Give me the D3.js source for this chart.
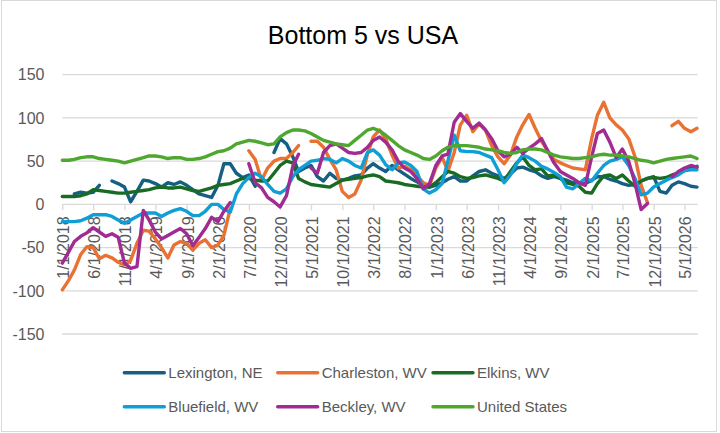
<!DOCTYPE html>
<html>
<head>
<meta charset="utf-8">
<script src="https://cdn.jsdelivr.net/npm/d3@7"></script>
<style>
  body { margin: 0; background: #fff; }
  text { font-family: "Liberation Sans", Arial, sans-serif; fill: #595959; }
</style>
</head>
<body>
<div id="chart"></div>
<script>
const width = 720, height = 433;
const margin = {top: 74.7, right: 23, bottom: 98.7, left: 62.3};

// monthly categories, 1/1/2018 .. 7/1/2026
const months = d3.timeMonth.range(new Date(2018, 0, 1), new Date(2026, 7, 1));
const tickLabels = ["1/1/2018", "6/1/2018", "11/1/2018", "4/1/2019", "9/1/2019", "2/1/2020",
  "7/1/2020", "12/1/2020", "5/1/2021", "10/1/2021", "3/1/2022", "8/1/2022", "1/1/2023",
  "6/1/2023", "11/1/2023", "4/1/2024", "9/1/2024", "2/1/2025", "7/1/2025", "12/1/2025", "5/1/2026"];
const yTicks = [-150, -100, -50, 0, 50, 100, 150];

const lexington = [null, null, 12, 14, 13, 14, 22, null, 27, 24,
  20, 3, 15, 28, 27, 24, 20, 25, 23, 26,
  22, 17, 12, 10, 8, 22, 47, 47, 36, 31,
  34, 21, null, null, 60, 76, 70, 55, 38, 42,
  45, 32, 27, 36, 30, 28, 30, 33, 34, 42,
  47, 42, 38, 45, 40, 35, 30, 26, 22, 20,
  22, 25, 29, 32, 27, 27, 33, 38, 40, 36,
  33, 30, 35, 42, 43, 40, 38, 33, 30, 32,
  30, 28, 25, 24, 24, 28, 32, 32, 29, 27,
  24, 22, 23, 27, 30, 32, 15, 13, 22, 26,
  24, 21, 20];
const charleston = [-99, -88, -76, -58, -49, -50, -63, -59, -62, -67,
  -70, -65, -45, -30, -31, -40, -50, -62, -47, -43,
  -45, -53, -45, -41, -50, -47, -36, -5, null, null,
  62, 52, 28, 42, 50, 53, 53, 60, 68, null,
  73, 73, 66, 52, 40, 15, 8, 12, 28, 58,
  78, 86, 76, 57, 42, 44, 40, 33, 25, 22,
  42, 55, 38, 60, 92, 103, 84, 93, 86, 68,
  55, 47, 57, 78, 92, 104, 88, 73, 62, 52,
  48, 45, 42, 41, 40, 76, 103, 118, 100, 92,
  86, 76, 55, 22, 2, null, null, null, 91, 96,
  88, 84, 88];
const elkins = [9, 9, 9, 10, 12, 17, 16, 15, 14, 13,
  13, 14, 15, 16, 17, 19, 20, 19, 19, 20,
  18, 16, 15, 17, 19, 22, 23, 24, 27, 30,
  30, 28, 27, 27, 36, 45, 50, 48, 30, 26,
  23, 22, 21, 20, 24, 28, 29, 30, 31, 33,
  34, 32, 27, 26, 25, 23, 22, 21, 20, 20,
  25, 32, 38, 36, 32, 30, 31, 33, 34, 32,
  30, 27, 38, 48, 55, 45, 40, 41, 33, 34,
  30, 25, 23, 21, 14, 13, 24, 33, 34, 30,
  34, 27, 21, 27, 30, 31, 30, 31, 34, 36,
  39, 42, 44];
const bluefield = [-20, -20, -20, -19, -16, -12, -12, -12, -14, -18,
  -22, -18, -14, -10, -10, -10, -14, -10, -7, -5,
  -8, -13, -13, -8, 0, 0, -6, -9, 12, 24,
  31, 36, 32, 23, 15, 13, 18, 32, 40, 45,
  50, 51, 53, 52, 48, 53, 50, 45, 42, 60,
  63, 57, 46, 40, 48, 49, 45, 38, 18, 13,
  17, 24, 50, 80, 62, 61, 61, 60, 57, 54,
  40, 25, 34, 47, 57, 54, 50, 44, 41, 37,
  32, 20, 18, 24, 30, 27, 36, 45, 50, 52,
  55, 45, 30, 11, 13, 20, 24, 28, 31, 34,
  39, 40, 40];
const beckley = [-68, -55, -43, -37, -33, -27, -32, -37, -34, -38,
  -68, -74, -72, -7, -18, -32, -40, -36, -32, -28,
  -34, -48, -38, -28, -15, -20, -8, 2, null, null,
  47, 25, 19, 8, 3, -3, 10, 44, 58, null,
  42, 36, 60, 68, 70, 65, 60, 59, 60, 66,
  74, 78, 72, 63, 50, 42, 38, 30, 18, 24,
  45, 56, 58, 95, 105, 96, 88, 94, 86, 76,
  62, 55, 58, 66, 59, 65, 70, 76, 62, 48,
  38, 34, 30, 25, 22, 55, 82, 86, 72, 54,
  64, 50, 24, -6, 1, null, null, null, 32, 38,
  42, 45, 43];
const unitedStates = [51, 51, 52, 54, 55, 55, 53, 52, 51, 50,
  48, 50, 52, 54, 56, 56, 55, 53, 54, 54,
  52, 52, 53, 55, 58, 61, 62, 65, 70, 72,
  74, 73, 71, 69, 70, 78, 83, 86, 86, 85,
  82, 78, 74, 72, 70, 69, 68, 74, 80, 86,
  88, 85, 80, 74, 68, 63, 60, 57, 53, 52,
  56, 62, 66, 68, 68, 68, 67, 66, 64, 63,
  62, 60, 59, 60, 63, 64, 64, 63, 60, 57,
  55, 54, 53, 53, 54, 55, 57, 58, 57, 57,
  56, 55, 53, 51, 50, 48, 50, 52, 53, 54,
  55, 56, 53];

const seriesNames = ["Lexington, NE", "Charleston, WV", "Elkins, WV", "Bluefield, WV", "Beckley, WV", "United States"];
const seriesValues = [lexington, charleston, elkins, bluefield, beckley, unitedStates];
const colors = ["#156082", "#E97132", "#196B24", "#0F9ED5", "#A02B93", "#4EA72E"];

const svg = d3.select("#chart")
    .append("svg")
    .attr("width", width)
    .attr("height", height);

svg.append("rect")
    .attr("x", 1.5).attr("y", 0.5)
    .attr("width", 715).attr("height", 431)
    .attr("fill", "#fff")
    .attr("stroke", "#d9d9d9");

const x = d3.scaleTime()
    .domain([months[0], months[months.length - 1]])
    .range([margin.left, width - margin.right]);
const y = d3.scaleLinear()
    .domain([-150, 150])
    .range([height - margin.bottom - 0.3, margin.top]);

// gridlines
svg.append("g")
    .selectAll("line")
    .data(yTicks)
    .enter()
    .append("line")
    .attr("x1", margin.left)
    .attr("x2", width - margin.right + 0.7)
    .attr("y1", d => y(d))
    .attr("y2", d => y(d))
    .attr("stroke", "#d9d9d9")
    .attr("stroke-width", 1.3);

// y labels
svg.append("g")
    .selectAll("text")
    .data(yTicks)
    .enter()
    .append("text")
    .attr("x", 44.5)
    .attr("y", d => y(d))
    .attr("dy", "0.36em")
    .attr("text-anchor", "end")
    .style("font-size", "16px")
    .text(d => d);

// x axis at zero
const tickDates = tickLabels.map(s => d3.timeParse("%m/%d/%Y")(s));
const xAxis = svg.append("g")
    .attr("transform", `translate(0,${y(0)})`)
    .call(d3.axisBottom(x)
        .tickValues(tickDates)
        .tickSize(6)
        .tickFormat((d, i) => tickLabels[i]));
xAxis.select(".domain").remove();
xAxis.selectAll(".tick line").attr("stroke", "#d9d9d9").attr("stroke-width", 1.3);
xAxis.selectAll(".tick text")
    .attr("fill", "#595959")
    .style("font-size", "16px")
    .style("font-family", "'Liberation Sans', Arial, sans-serif")
    .attr("text-anchor", "end")
    .attr("transform", "rotate(-90)")
    .attr("x", -12)
    .attr("y", 0)
    .attr("dy", "0.4em");

// series lines
const line = d3.line()
    .defined(d => d.v != null)
    .x(d => x(d.date))
    .y(d => y(d.v));

seriesValues.forEach((vals, k) => {
    svg.append("path")
        .datum(vals.map((v, i) => ({date: months[i], v: v})))
        .attr("fill", "none")
        .attr("stroke", colors[k])
        .attr("stroke-width", 3.4)
        .attr("stroke-linejoin", "round")
        .attr("stroke-linecap", "round")
        .attr("d", line);
});

// title
svg.append("text")
    .attr("x", 363)
    .attr("y", 44)
    .attr("text-anchor", "middle")
    .style("font-size", "25px")
    .style("fill", "#000")
    .text("Bottom 5 vs USA");

// legend
const legendX = [124.3, 277.7, 433];
const legendY = [372.7, 406.7];
const legend = svg.append("g")
    .selectAll("g")
    .data(seriesNames)
    .enter()
    .append("g")
    .attr("transform", (d, i) => `translate(${legendX[i % 3]},${legendY[Math.floor(i / 3)]})`);
legend.append("line")
    .attr("x1", 0).attr("x2", 40)
    .attr("stroke", (d, i) => colors[i])
    .attr("stroke-width", 3.4)
    .attr("stroke-linecap", "round");
legend.append("text")
    .attr("x", 44)
    .attr("dy", "0.36em")
    .style("font-size", "15px")
    .text(d => d);
</script>
</body>
</html>
